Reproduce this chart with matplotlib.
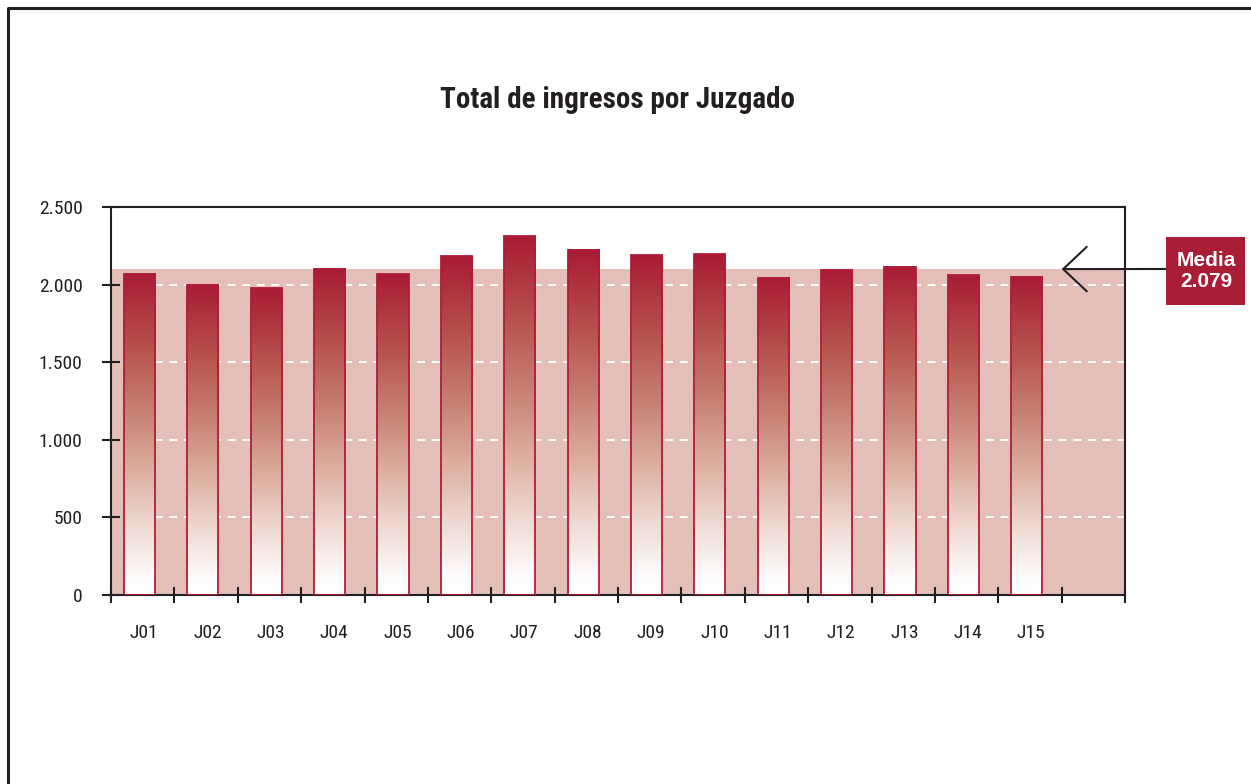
import numpy as np
import matplotlib
matplotlib.use("Agg")
from matplotlib import pyplot as plt
from matplotlib.colors import LinearSegmentedColormap
from matplotlib.lines import Line2D
from matplotlib.patches import Rectangle

plt.rcParams['font.family'] = ['Liberation Sans Narrow', 'Roboto Condensed', 'Liberation Sans', 'DejaVu Sans']

# Datos
juzgados = ["J01", "J02", "J03", "J04", "J05", "J06", "J07", "J08",
            "J09", "J10", "J11", "J12", "J13", "J14", "J15"]
ingresos = [2071, 1998, 1978, 2101, 2067, 2183, 2310, 2224,
            2190, 2196, 2045, 2095, 2114, 2060, 2050]
media_texto = "2.079"
banda = 2100          # altura de la franja sombreada
n_huecos = 16         # 15 juzgados + un hueco vacio
y_ticks = [0, 500, 1000, 1500, 2000, 2500]
y_labels = ["0", "500", "1.000", "1.500", "2.000", "2.500"]

ROJO = "#a91d36"
BORDE = "#b01c3a"
FRANJA = "#e3bfb8"
NEGRO = "#231f20"

W, H = 1251, 784
fig = plt.figure(figsize=(W / 100, H / 100), dpi=100)
ax = fig.add_axes([111 / W, 1 - 595 / H, (1125 - 111) / W, (595 - 207) / H])

# franja de la media
ax.axhspan(0, banda, color=FRANJA, zorder=0, lw=0)

# rejilla discontinua blanca
for v in y_ticks[1:-1]:
    ax.axhline(v, color="white", lw=1.4, ls=(0, (4, 3.5)), zorder=1)

# barras con degradado
cmap = LinearSegmentedColormap.from_list("rojo", [
    (0.0, "#ffffff"), (0.06, "#fdfafa"), (0.2, "#f0dcd5"),
    (0.4, "#dbab9b"), (0.55, "#c98577"), (0.75, "#b8564f"), (1.0, "#a81c34")])
grad = np.linspace(0, 1, 256).reshape(-1, 1)

pos = np.arange(len(juzgados)) + 0.45
bars = ax.bar(pos, ingresos, width=0.49, fill=False, edgecolor=BORDE,
              linewidth=1.3, zorder=3)
for b in bars:
    x0, w, h = b.get_x(), b.get_width(), b.get_height()
    ax.imshow(grad, extent=[x0, x0 + w, 0, h], origin="lower", cmap=cmap,
              aspect="auto", zorder=2, interpolation="bilinear")

ax.set_xlim(0, n_huecos)
ax.set_ylim(0, 2500)

ax.set_xticks(np.arange(n_huecos + 1))
ax.set_xticklabels([])
ax.set_xticks(np.arange(len(juzgados)) + 0.52, minor=True)
ax.set_xticklabels(juzgados, minor=True, fontsize=14, color=NEGRO)
ax.tick_params(axis="x", which="major", direction="inout", length=12,
               width=1.5, color=NEGRO)
ax.tick_params(axis="x", which="minor", length=0, pad=21)

ax.set_yticks(y_ticks)
ax.set_yticklabels(y_labels, fontsize=14, color=NEGRO)
ax.tick_params(axis="y", direction="inout", length=13, width=1.5,
               color=NEGRO, pad=14)

for s in ax.spines.values():
    s.set_color(NEGRO)
    s.set_linewidth(1.5)

# titulo
fig.text(617 / W, 1 - 100 / H, "Total de ingresos por Juzgado",
         ha="center", va="center", fontsize=21, fontweight="bold", color=NEGRO)

# caja de la media
fig.patches.append(Rectangle((1166 / W, 1 - 305 / H), 79 / W, 68 / H,
                             transform=fig.transFigure, facecolor=ROJO,
                             edgecolor="none"))
fig.text(1206 / W, 1 - 271 / H, "Media\n" + media_texto, ha="center",
         va="center", fontsize=15, fontweight="bold", color="white",
         linespacing=1.1, family=["Liberation Sans", "DejaVu Sans"])

ax.annotate("", xy=(15.0, banda), xycoords="data",
            xytext=(1166 / W, 1 - 269 / H), textcoords="figure fraction",
            arrowprops=dict(arrowstyle="->,head_length=17,head_width=16",
                            mutation_scale=1, color=NEGRO, lw=1.5,
                            shrinkA=0, shrinkB=0),
            annotation_clip=False, zorder=5)

# marco exterior (izquierda y arriba)
fig.lines.append(Line2D([8 / W, 8 / W, 1], [0, 1 - 8 / H, 1 - 8 / H],
                        transform=fig.transFigure, color=NEGRO, lw=2.2))

fig.savefig("out.png", dpi=100)
